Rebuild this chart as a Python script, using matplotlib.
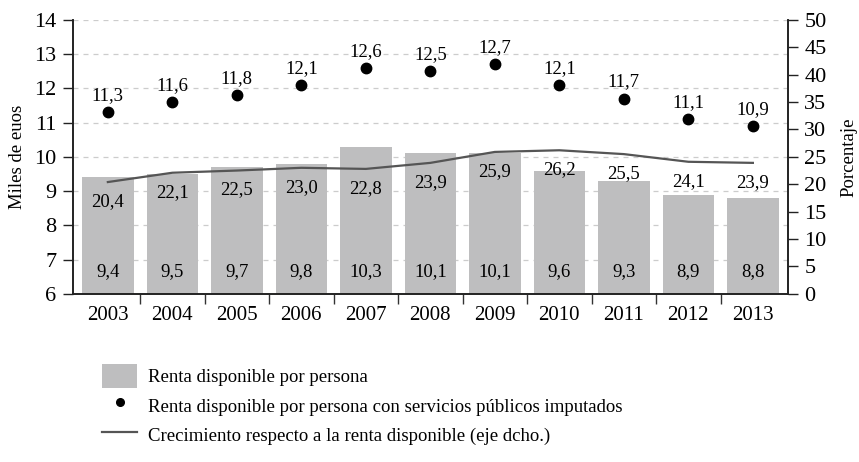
import matplotlib.pyplot as plt
from matplotlib.patches import Patch
from matplotlib.lines import Line2D

plt.rcParams["font.family"] = ["Liberation Serif", "DejaVu Serif"]

years = ["2003", "2004", "2005", "2006", "2007", "2008", "2009", "2010", "2011", "2012", "2013"]
renta = [9.4, 9.5, 9.7, 9.8, 10.3, 10.1, 10.1, 9.6, 9.3, 8.9, 8.8]
renta_imputada = [11.3, 11.6, 11.8, 12.1, 12.6, 12.5, 12.7, 12.1, 11.7, 11.1, 10.9]
crecimiento = [20.4, 22.1, 22.5, 23.0, 22.8, 23.9, 25.9, 26.2, 25.5, 24.1, 23.9]

bar_color = "#bebebf"
line_color = "#555555"
tick_fs = 15
ytick_fs = 16
val_fs = 13.5
leg_fs = 13.5


def fmt(v):
    return f"{v:.1f}".replace(".", ",")


fig = plt.figure(figsize=(8.59, 4.62), dpi=100)
ax = fig.add_axes([0.085, 0.364, 0.832, 0.593])
ax2 = ax.twinx()

x = list(range(len(years)))

# left axis: bars and dots (miles de euros)
ax.bar(x, renta, width=0.8, bottom=0, color=bar_color, zorder=2)
ax.plot(x, renta_imputada, "o", color="black", markersize=7.5, zorder=4)
for xi, v in zip(x, renta):
    ax.text(xi, 6.65, fmt(v), ha="center", va="center", fontsize=val_fs, zorder=5)
for xi, v in zip(x, renta_imputada):
    ax.annotate(fmt(v), (xi, v), xytext=(0, 12), textcoords="offset points",
                ha="center", va="center", fontsize=val_fs, zorder=5)

# right axis: growth line (porcentaje), drawn over the bars
ax2.plot(x, crecimiento, color=line_color, linewidth=1.6, zorder=3)
for xi, v in zip(x, crecimiento):
    ax2.annotate(fmt(v), (xi, v), xytext=(0, -14), textcoords="offset points",
                 ha="center", va="center", fontsize=val_fs, zorder=5)

ax.set_xlim(-0.54, len(years) - 0.46)
ax.set_ylim(6, 14)
ax2.set_ylim(0, 50)
ax.set_yticks(range(6, 15))
ax2.set_yticks(range(0, 51, 5))
ax.set_xticks(x)
ax.set_xticklabels(years)
ax.set_xticks([i + 0.5 for i in x[:-1]], minor=True)
ax.tick_params(axis="x", which="major", length=0, labelsize=tick_fs, pad=9)
ax.tick_params(axis="x", which="minor", length=7, width=1, color="#333333")
ax.tick_params(axis="y", length=7, width=1, labelsize=ytick_fs, pad=5, color="#222222")
ax2.tick_params(axis="y", length=7, width=1, labelsize=ytick_fs, pad=5, color="#222222")
ax2.patch.set_visible(False)

for yv in range(7, 15):
    ax.axhline(yv, color="#cccccc", linestyle=(0, (4, 4)), linewidth=0.9, zorder=1)

for a in (ax, ax2):
    a.spines["top"].set_visible(False)
    for s in ("left", "right", "bottom"):
        a.spines[s].set_color("#222222")
        a.spines[s].set_linewidth(1.2)

ax.set_ylabel("Miles de euos", fontsize=tick_fs - 1.5, labelpad=6)
ax2.set_ylabel("Porcentaje", fontsize=tick_fs - 1.5, labelpad=10)

handles = [
    Patch(facecolor=bar_color, edgecolor="none"),
    Line2D([], [], linestyle="none", marker="o", color="black", markersize=5.5),
    Line2D([], [], color=line_color, linewidth=1.6),
]
labels = [
    "Renta disponible por persona",
    "Renta disponible por persona con servicios públicos imputados",
    "Crecimiento respecto a la renta disponible (eje dcho.)",
]
fig.legend(handles, labels, loc="upper left", bbox_to_anchor=(0.119, 0.213),
           frameon=False, fontsize=leg_fs, handlelength=1.85, handleheight=1.6,
           handletextpad=0.6, labelspacing=0.3, borderpad=0, borderaxespad=0)

fig.savefig("out.png", dpi=100)
